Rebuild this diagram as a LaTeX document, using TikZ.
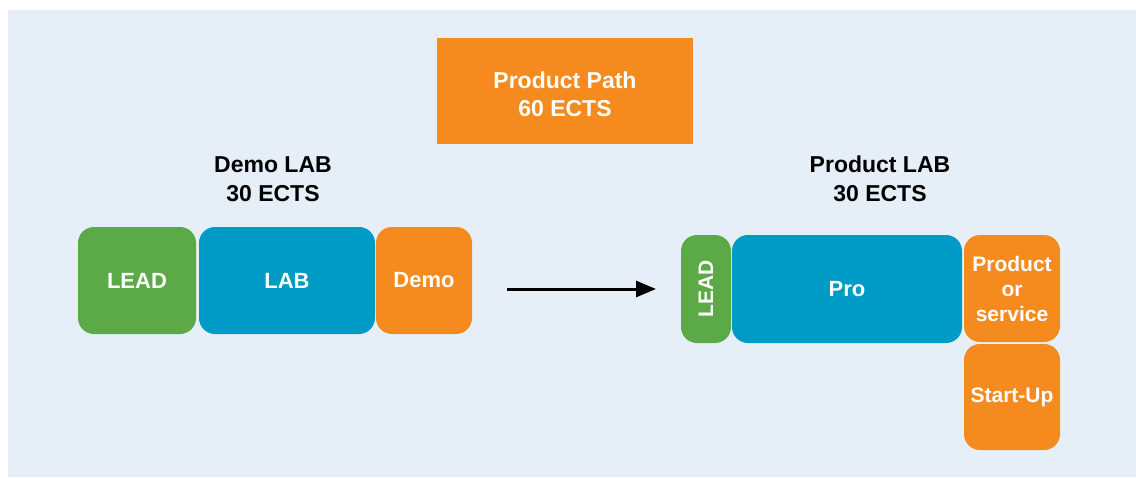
\documentclass[tikz,border=0pt]{standalone}
\usepackage{fontspec}
\setmainfont{Liberation Sans}
\usetikzlibrary{arrows.meta}
\definecolor{bgblue}{RGB}{230,239,247}
\definecolor{boxorange}{RGB}{245,139,31}
\definecolor{boxgreen}{RGB}{92,170,71}
\definecolor{boxblue}{RGB}{0,154,199}
\begin{document}
\begin{tikzpicture}[x=1pt,y=-1pt,
  block/.style={rounded corners=16pt, inner sep=0pt, text=white, align=center,
    font=\bfseries\fontsize{22}{26}\selectfont},
  smallblock/.style={block, font=\bfseries\fontsize{21}{25}\selectfont},
  heading/.style={inner sep=0pt, align=center, text=black,
    font=\bfseries\fontsize{23}{29}\selectfont},
  flow/.style={line width=3pt, -{Triangle[length=20pt,width=16pt]}}]
\useasboundingbox (0,0) rectangle (1136,477);
\fill[white] (0,0) rectangle (1136,477);
\fill[bgblue] (8,10) rectangle (1136,477);

% overall path
\node[inner sep=0pt, fill=boxorange, text=white, align=center,
  font=\bfseries\fontsize{23}{28}\selectfont,
  minimum width=256pt, minimum height=106pt] (path) at (565,91) {\rule{0pt}{23pt}Product Path\\60 ECTS};

% headings
\node[heading] (demohead) at (273,179) {Demo LAB\\30 ECTS};
\node[heading] (prodhead) at (880,179) {Product LAB\\30 ECTS};

% Demo LAB modules
\node[block, fill=boxgreen, minimum width=118pt, minimum height=107pt] (lead1) at (137,280.5) {LEAD};
\node[block, fill=boxblue, minimum width=176pt, minimum height=107pt] (lab) at (287,280.5) {LAB};
\node[block, fill=boxorange, minimum width=96pt, minimum height=107pt] (demo) at (424,280.5) {Demo};

% Product LAB modules
\node[smallblock, fill=boxgreen, rotate=90, minimum width=108pt, minimum height=50pt] (lead2) at (706,289) {LEAD};
\node[block, fill=boxblue, minimum width=230pt, minimum height=108pt] (pro) at (847,289) {Pro};
\node[smallblock, fill=boxorange, minimum width=96pt, minimum height=107pt] (prodserv) at (1012,288.5) {Product\\or\\service};
\node[smallblock, fill=boxorange, minimum width=96pt, minimum height=106pt] (startup) at (1012,397) {Start-Up};

% transition arrow
\coordinate (arrS) at (507,289);
\coordinate (arrE) at (656,289);
\draw[flow] (arrS) -- (arrE);
\end{tikzpicture}
\end{document}
